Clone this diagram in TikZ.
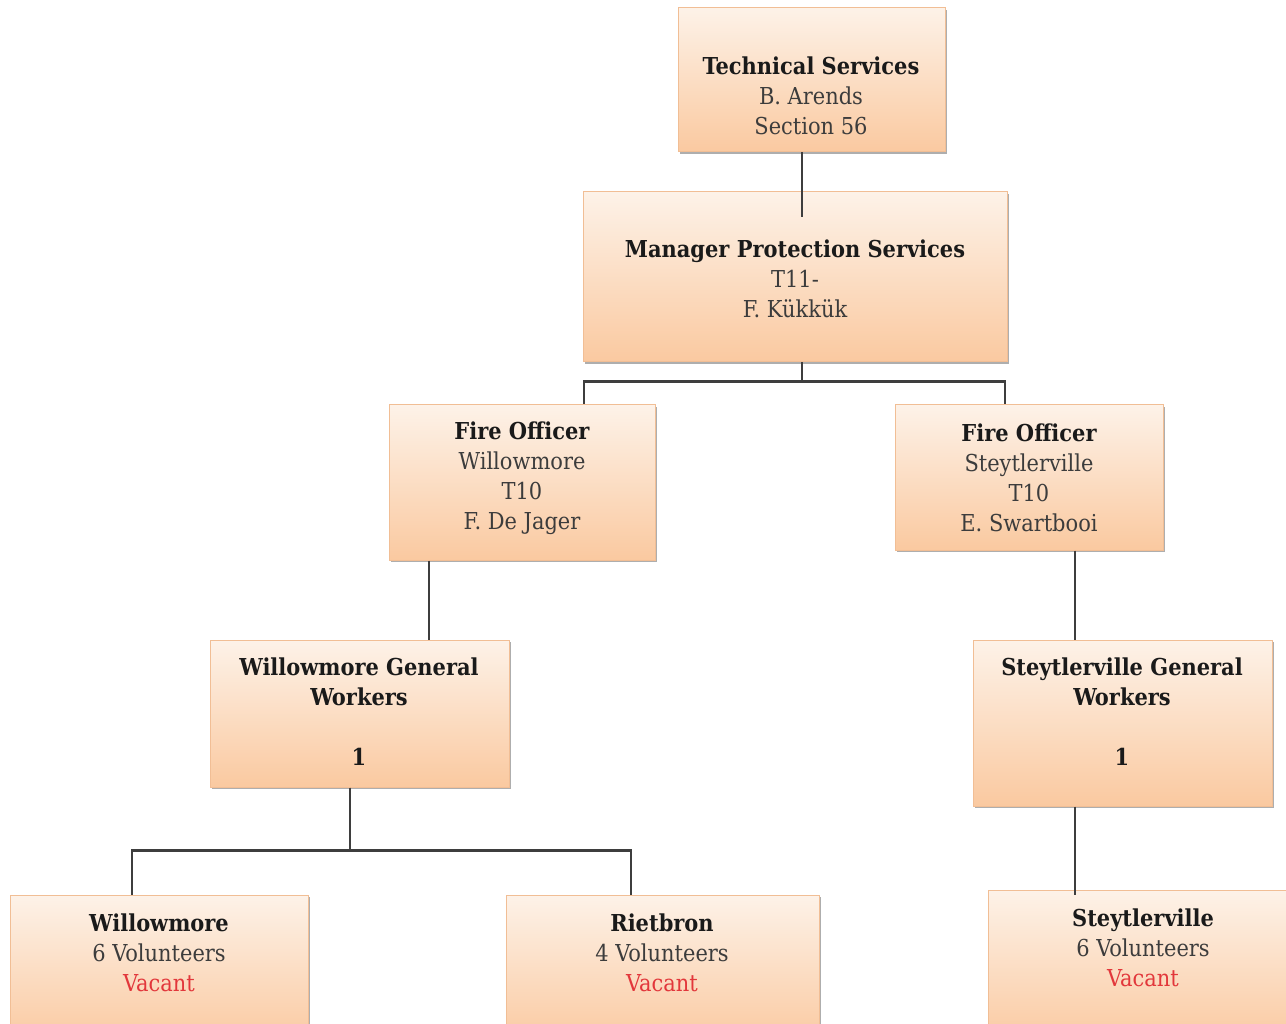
\documentclass[tikz,border=0pt]{standalone}
\usepackage{fontspec}
\setmainfont{DejaVu Serif Condensed}
\usetikzlibrary{shadows}
\definecolor{boxtop}{HTML}{FDF2E8}
\definecolor{boxbot}{HTML}{FAC9A0}
\definecolor{boxline}{HTML}{F1BE95}
\definecolor{linkgray}{HTML}{3E3E3E}
\definecolor{titleink}{HTML}{1A1A1A}
\definecolor{bodyink}{HTML}{3C3C3C}
\definecolor{vacantred}{HTML}{E2373B}
\tikzset{
  orgbox/.style={rectangle, draw=boxline, line width=1pt, top color=boxtop, bottom color=boxbot,
    inner sep=0pt, drop shadow={shadow xshift=2pt, shadow yshift=-2pt, fill=black!45, opacity=0.7}},
  orgtext/.style={align=center, text=bodyink, font=\fontsize{23.3}{30}\selectfont, inner sep=0pt},
  link/.style={draw=linkgray, line width=2.4pt},
}
\newcommand{\ttl}[1]{{\bfseries\color{titleink}#1}}
\begin{document}
\begin{tikzpicture}[x=1pt, y=-1pt]
  \useasboundingbox[fill=white] (0,0) rectangle (1286,1024);

  % boxes
  \node[orgbox, minimum width=267pt, minimum height=144pt] (ts)  at (811.5,80)   {};
  \node[orgbox, minimum width=424pt, minimum height=170pt] (mps) at (795,277)    {};
  \node[orgbox, minimum width=266pt, minimum height=155pt] (fow) at (522,482.5)  {};
  \node[orgbox, minimum width=268pt, minimum height=145pt] (fos) at (1029,477.5) {};
  \node[orgbox, minimum width=299pt, minimum height=147pt] (wgw) at (359.5,713.5){};
  \node[orgbox, minimum width=299pt, minimum height=166pt] (sgw) at (1122.5,723) {};
  \node[orgbox, minimum width=298pt, minimum height=150pt] (wv)  at (159,970)    {};
  \node[orgbox, minimum width=313pt, minimum height=150pt] (rv)  at (662.5,970)  {};
  \node[orgbox, minimum width=302pt, minimum height=155pt] (sv)  at (1139,967.5) {};

  % texts
  \node[orgtext] (tsT)  at (811,96)   {\ttl{Technical Services}\\B. Arends\\Section 56};
  \node[orgtext] (mpsT) at (795,279)  {\ttl{Manager Protection Services}\\T11-\\F. Kükkük};
  \node[orgtext] (fowT) at (522,478)  {\ttl{Fire Officer}\\Willowmore\\T10\\F. De Jager};
  \node[orgtext] (fosT) at (1029,478) {\ttl{Fire Officer}\\Steytlerville\\T10\\E. Swartbooi};
  \node[orgtext] (wgwT) at (359,712)  {\ttl{Willowmore General}\\\ttl{Workers}\\[30pt]\ttl{1}};
  \node[orgtext] (sgwT) at (1122,712) {\ttl{Steytlerville General}\\\ttl{Workers}\\[30pt]\ttl{1}};
  \node[orgtext] (wvT)  at (159,953)  {\ttl{Willowmore}\\6 Volunteers\\\textcolor{vacantred}{Vacant}};
  \node[orgtext] (rvT)  at (662,953)  {\ttl{Rietbron}\\4 Volunteers\\\textcolor{vacantred}{Vacant}};
  \node[orgtext] (svT)  at (1143,948) {\ttl{Steytlerville}\\6 Volunteers\\\textcolor{vacantred}{Vacant}};

  % connectors
  \draw[link] ([xshift=-9.5pt]ts.south) -- ([xshift=7pt,yshift=-26pt]mps.north);
  \draw[link] ([xshift=7pt]mps.south) -- ++(0,19) -| ([xshift=62pt]fow.north);
  \draw[link] ([xshift=7pt]mps.south) -- ++(0,19) -| ([xshift=-24pt]fos.north);
  \draw[link] ([xshift=-93pt]fow.south) -- ([xshift=69.5pt]wgw.north);
  \draw[link] ([xshift=46pt]fos.south) -- ([xshift=-47.5pt]sgw.north);
  \draw[link] ([xshift=-9.5pt]wgw.south) -- ++(0,63) -| ([xshift=-27pt]wv.north);
  \draw[link] ([xshift=-9.5pt]wgw.south) -- ++(0,63) -| ([xshift=-31.5pt]rv.north);
  \draw[link] ([xshift=-47.5pt]sgw.south) -- ([xshift=-64pt,yshift=-5pt]sv.north);
\end{tikzpicture}
\end{document}
